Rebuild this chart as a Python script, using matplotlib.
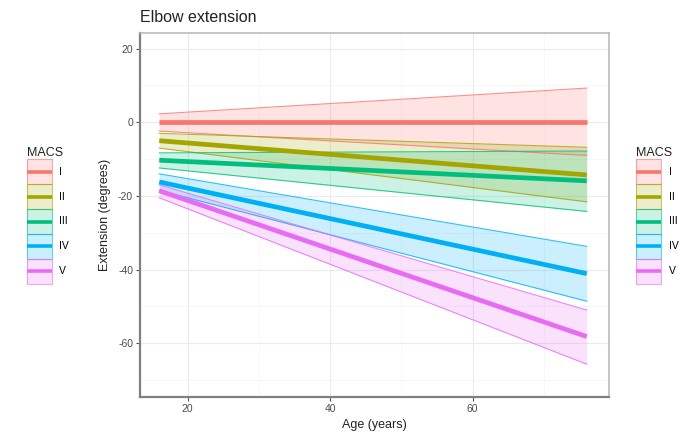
import matplotlib
matplotlib.use("Agg")
import matplotlib.pyplot as plt
from matplotlib.patches import Rectangle
from matplotlib.lines import Line2D
from matplotlib.legend_handler import HandlerBase

plt.rcParams["font.family"] = ["Liberation Sans", "DejaVu Sans"]
plt.rcParams["axes.unicode_minus"] = False

# data: linear fits, values at first and last age
age = [16, 76]
groups = ["I", "II", "III", "IV", "V"]
colors = ["#F8766D", "#A3A500", "#00BF7D", "#00B0F6", "#E76BF3"]
mean_vals = [[0.0, 0.0], [-5.0, -14.3], [-10.3, -15.9], [-16.2, -41.1], [-18.6, -58.2]]
upper_vals = [[2.3, 9.3], [-3.0, -6.8], [-8.3, -7.8], [-14.0, -33.7], [-17.0, -51.0]]
lower_vals = [[-2.4, -9.0], [-7.0, -21.6], [-12.4, -24.2], [-18.5, -48.6], [-20.5, -65.7]]


class RibbonHandler(HandlerBase):
    """legend key: light ribbon box with outline and thick line in the middle"""
    def create_artists(self, legend, orig_handle, xdescent, ydescent,
                       width, height, fontsize, trans):
        c = orig_handle.get_color()
        x0, y0 = -xdescent, -ydescent
        box = Rectangle((x0, y0), width, height, facecolor=c,
                        alpha=0.2, edgecolor="none", transform=trans)
        edge = Rectangle((x0, y0), width, height,
                         facecolor="none", edgecolor=c, alpha=0.6, lw=0.8,
                         transform=trans)
        ymid = y0 + height / 2
        line = Line2D([x0, x0 + width], [ymid, ymid],
                      color=c, lw=2.6, solid_capstyle="butt", transform=trans)
        return [box, edge, line]


fig = plt.figure(figsize=(6.81, 4.44), dpi=100)
ax = fig.add_axes([0.2056, 0.106, 0.6884, 0.820])

for c, m, lo, hi in zip(colors, mean_vals, lower_vals, upper_vals):
    ax.fill_between(age, lo, hi, color=c, alpha=0.2, linewidth=0, zorder=2)
    ax.plot(age, lo, color=c, alpha=0.8, lw=0.8, zorder=3)
    ax.plot(age, hi, color=c, alpha=0.8, lw=0.8, zorder=3)
    ax.plot(age, m, color=c, lw=3.4, solid_capstyle="butt", zorder=4)

ax.set_xlim(13.3, 79.1)
ax.set_ylim(-74.6, 24.3)
ax.set_xticks([20, 40, 60])
ax.set_xticks([30, 50, 70], minor=True)
ax.set_yticks([-60, -40, -20, 0, 20])
ax.set_yticks([-70, -50, -30, -10, 10], minor=True)
ax.grid(True, which="major", color="#EBEBEB", lw=0.8, zorder=0)
ax.grid(True, which="minor", color="#F4F4F4", lw=0.5, zorder=0)
ax.set_axisbelow(True)
ax.tick_params(axis="both", which="major", length=3, width=0.8, color="#555555",
               labelsize=7.5, labelcolor="#4D4D4D", pad=2)
ax.tick_params(axis="both", which="minor", length=0)
for side in ["left", "bottom"]:
    ax.spines[side].set_color("#808080")
    ax.spines[side].set_linewidth(1.6)
for side in ["top", "right"]:
    ax.spines[side].set_color("#B5B5B5")
    ax.spines[side].set_linewidth(1.1)

ax.set_xlabel("Age (years)", fontsize=9, color="#222222", labelpad=4)
ax.set_ylabel("Extension (degrees)", fontsize=9, color="#222222", labelpad=5)
ax.set_title("Elbow extension", fontsize=11.5, loc="left", color="#222222", pad=8)

handles = [Line2D([], [], color=c) for c in colors]
for anchor in [(0.032, 0.680), (0.927, 0.680)]:
    leg = fig.legend(handles, groups, title="MACS", loc="upper left",
                     bbox_to_anchor=anchor, frameon=False, fontsize=7.5,
                     title_fontsize=9, handlelength=2.4, handleheight=3.3,
                     labelspacing=0.0, borderpad=0, handletextpad=0.7,
                     alignment="left", handler_map={Line2D: RibbonHandler()})
    leg._legend_handle_box.sep = 0
    leg._legend_title_box._text.set_color("#222222")

fig.savefig("out.png", dpi=100)
